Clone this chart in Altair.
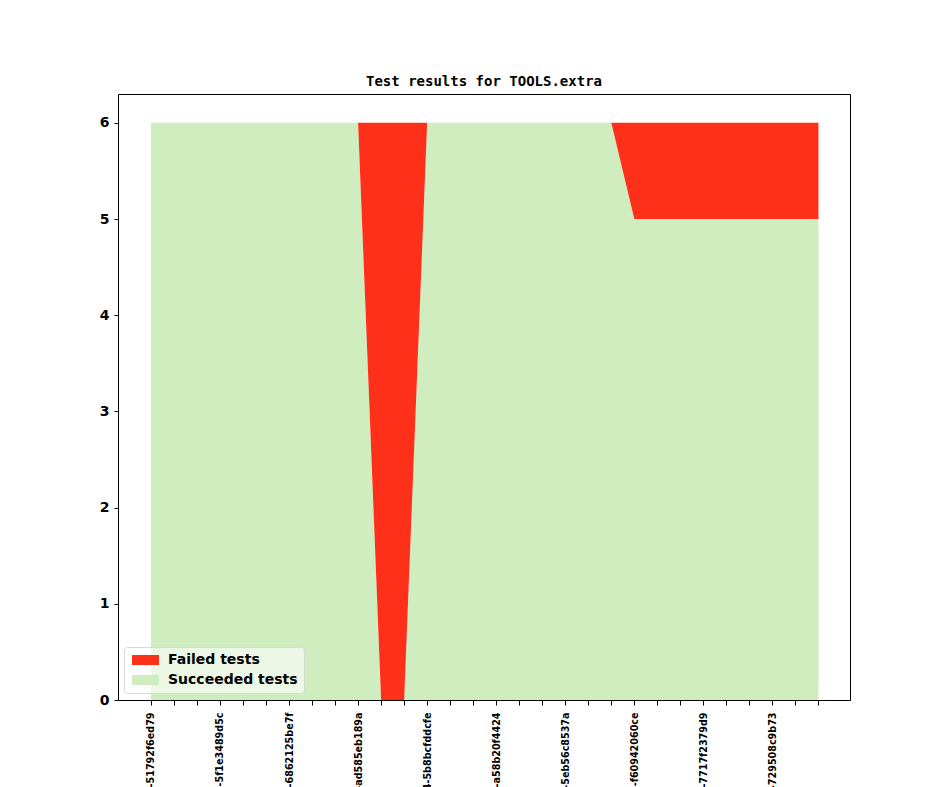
import altair as alt
import pandas as pd

# ---- data ----
run_index = list(range(30))
succeeded = [6] * 10 + [0, 0] + [6] * 9 + [5] * 9
failed = [0] * 10 + [6, 6] + [0] * 9 + [1] * 9
tick_labels = [
    "build-0412-51792f6ed79",
    "build-0415-5f1e3489d5c",
    "build-0418-6862125be7f",
    "build-0421-ad585eb189a",
    "build-0424-5b8bcfddcfe",
    "build-0427-a58b20f4424",
    "build-0430-5eb56c8537a",
    "build-0433-f60942060ce",
    "build-0436-7717f2379d9",
    "build-0439-729508c9b73",
]
series_names = ["Failed tests", "Succeeded tests"]
series_colors = ["#ff3019", "#cfedbf"]

rows = []
for i, s, f in zip(run_index, succeeded, failed):
    rows.append({"idx": i, "series": "Succeeded tests", "value": s, "ord": 0})
    rows.append({"idx": i, "series": "Failed tests", "value": f, "ord": 1})
df = pd.DataFrame(rows)

label_array = "[" + ",".join("'" + t + "'" for t in tick_labels) + "]"
label_expr = f"datum.value % 3 == 0 ? {label_array}[floor(datum.value / 3)] : ''"

chart = (
    alt.Chart(df)
    .mark_area(interpolate="linear", opacity=1)
    .encode(
        x=alt.X(
            "idx:Q",
            scale=alt.Scale(domain=[-1.43, 30.37], nice=False, zero=False),
            axis=alt.Axis(
                values=run_index,
                labelExpr=label_expr,
                title=None,
                grid=False,
                domain=False,
                tickColor="black",
                tickSize=5,
                labelAngle=270,
                labelAlign="right",
                labelBaseline="middle",
                labelPadding=7,
                labelFont="DejaVu Sans",
                labelFontSize=9.6,
                labelFontWeight="bold",
                labelColor="black",
                labelOverlap=False,
                labelFlush=False,
                labelBound=False,
            ),
        ),
        y=alt.Y(
            "value:Q",
            stack="zero",
            scale=alt.Scale(domain=[0, 6.3], nice=False),
            axis=alt.Axis(
                values=[0, 1, 2, 3, 4, 5, 6],
                format="d",
                title=None,
                grid=False,
                domain=False,
                tickColor="black",
                tickSize=4,
                labelPadding=5,
                labelFont="DejaVu Sans",
                labelFontSize=14,
                labelFontWeight="bold",
                labelColor="black",
            ),
        ),
        color=alt.Color(
            "series:N",
            scale=alt.Scale(domain=series_names, range=series_colors),
            legend=alt.Legend(
                title=None,
                orient="none",
                legendX=6,
                legendY=553,
                fillColor="rgba(255,255,255,0.6)",
                strokeColor="#d8d8d8",
                cornerRadius=3,
                padding=6,
                symbolType="M-1,-1H4.4V1H-1Z",
                symbolSize=100,
                symbolStrokeWidth=0,
                symbolOpacity=1,
                labelFont="DejaVu Sans",
                labelFontSize=14,
                labelFontWeight="bold",
                labelColor="black",
                labelOffset=24,
                rowPadding=6,
            ),
        ),
        order=alt.Order("ord:Q"),
    )
    .properties(
        width=732,
        height=606,
        title=alt.TitleParams(
            "Test results for TOOLS.extra",
            font="DejaVu Sans Mono",
            fontSize=14,
            fontWeight="bold",
            color="black",
            anchor="middle",
            offset=5,
        ),
        autosize=alt.AutoSizeParams(type="none"),
        padding={"left": 110, "top": 86, "right": 86, "bottom": 87},
    )
    .configure(background="white")
    .configure_view(stroke="black", strokeWidth=1)
)

chart.save("out.html", embed_options={"renderer": "svg", "actions": False})
